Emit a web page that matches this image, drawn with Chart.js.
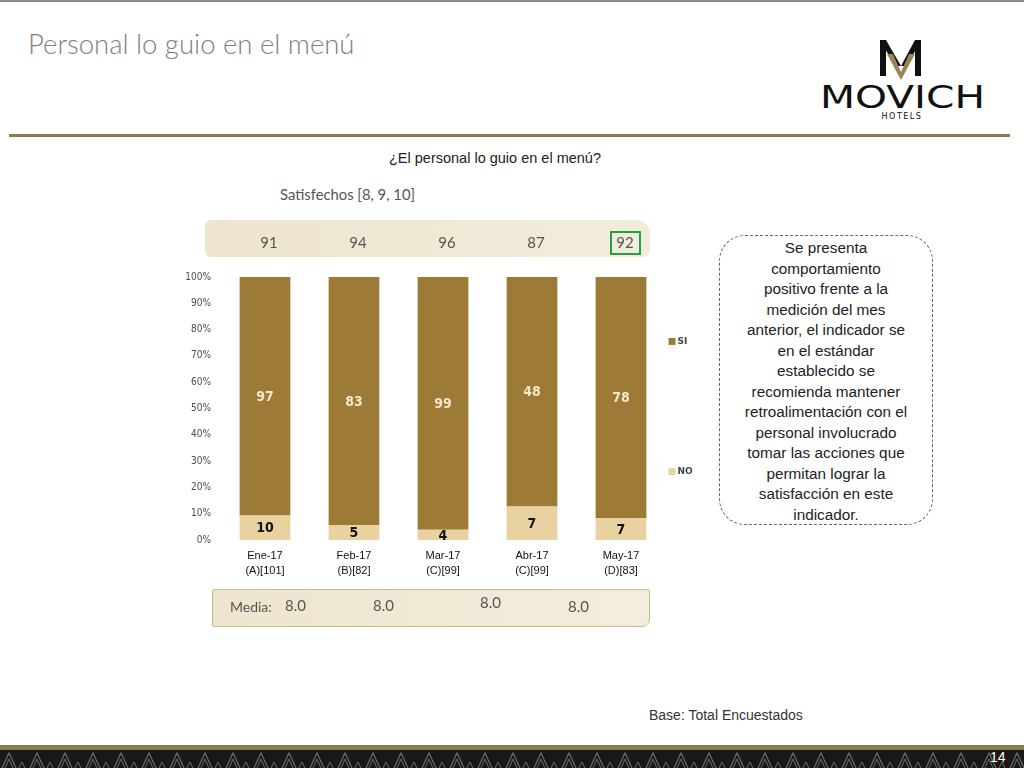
<!DOCTYPE html>
<html>
<head>
<meta charset="utf-8">
<script src="https://cdn.jsdelivr.net/npm/chart.js@4"></script>
<style>
  body { margin: 0; width: 1024px; height: 768px; position: relative; overflow: hidden; background: #fff; font-family: "Open Sans", sans-serif; }
  .abs { position: absolute; }
  #topRule { left: 0; top: 0; width: 1024px; height: 2px; background: #8a8a8a; }
  #title { left: 28px; top: 27px; font-family: Lato, "Open Sans", sans-serif; font-weight: 300; font-size: 27.5px; color: #7f7f7f; }
  #goldRule { left: 9px; top: 134px; width: 1001px; height: 3px; background: #8c7a50; }
  #question { left: 0; width: 990px; top: 150px; text-align: center; font-size: 14.5px; color: #222; font-family: "Liberation Sans", sans-serif; }
  #satLabel { left: 280px; top: 185px; font-family: Lato, sans-serif; font-size: 14.8px; color: #555; }
  #band { left: 205px; top: 220px; width: 445px; height: 37px; background: linear-gradient(90deg, #ede5cf, #f2ecdc); border-radius: 6px 14px 6px 6px; }
  #media { left: 212px; top: 589px; width: 436px; height: 36px; background: linear-gradient(90deg, #ede5cf, #f3eddd); border: 1px solid #c8b98e; border-radius: 2px 2px 8px 2px; font-family: Lato, sans-serif; color: #555; }
  #media span { position: absolute; font-size: 15px; }
  #note { left: 719px; top: 235px; width: 214px; height: 290px; border: 1px dashed #666; border-radius: 26px; text-align: center; font-family: "Liberation Sans", sans-serif; font-size: 15.3px; line-height: 20.5px; color: #222; padding-top: 2px; box-sizing: border-box; }
  #base { left: 649px; top: 707px; font-family: "Liberation Sans", sans-serif; font-size: 14px; color: #333; }
  #footGold { left: 0; top: 745px; width: 1024px; height: 5px; background: #8c7a50; }
  #pageNum { left: 990px; top: 749px; font-family: "Liberation Sans", sans-serif; font-size: 14px; color: #fff; }
  #chartBox { left: 175px; top: 215px; width: 525px; height: 375px; }
</style>
</head>
<body>
<div class="abs" id="topRule"></div>
<div class="abs" id="title">Personal lo guio en el menú</div>

<svg class="abs" style="left:815px;top:36px" width="175" height="90" viewBox="0 0 175 90">
  <polygon points="65,4 71,4 86,30 80,30" fill="#111"/>
  <polygon points="100,4 106,4 92,30 86,30" fill="#111"/>
  <polygon points="65,4 71,4 71,40 65,40" fill="#111"/>
  <polygon points="100,4 106,4 106,40 100,40" fill="#111"/>
  <polygon points="72,18 78,18 86,36 94,18 100,18 86,44" fill="#9a8455"/>
  <text x="5" y="72" textLength="165" lengthAdjust="spacingAndGlyphs" font-family="DejaVu Sans, sans-serif" font-size="32" fill="#111">MOVICH</text>
  <text x="87" y="83" text-anchor="middle" font-family="DejaVu Sans, sans-serif" font-size="8" letter-spacing="1.5" fill="#111">HOTELS</text>
</svg>

<div class="abs" id="goldRule"></div>
<div class="abs" id="question">¿El personal lo guio en el menú?</div>
<div class="abs" id="satLabel">Satisfechos [8, 9, 10]</div>
<div class="abs" id="band"></div>

<div class="abs" id="chartBox"><canvas id="chart" width="525" height="375"></canvas></div>

<div class="abs" id="media">
  <span style="left:17px;top:8px;font-size:14px">Media:</span>
  <span id="m0" style="left:72px;top:6px"></span>
  <span id="m1" style="left:160px;top:6px"></span>
  <span id="m2" style="left:267px;top:3px"></span>
  <span id="m3" style="left:355px;top:7px"></span>
</div>

<div class="abs" id="note">Se presenta<br>comportamiento<br>positivo frente a la<br>medición del mes<br>anterior, el indicador se<br>en el estándar<br>establecido se<br>recomienda mantener<br>retroalimentación con el<br>personal involucrado<br>tomar las acciones que<br>permitan lograr la<br>satisfacción en este<br>indicador.</div>

<div class="abs" id="base">Base: Total Encuestados</div>
<div class="abs" id="footGold"></div>
<svg class="abs" style="left:0;top:750px" width="1024" height="18">
  <defs>
    <pattern id="tri" width="28" height="18" patternUnits="userSpaceOnUse">
      <rect width="28" height="18" fill="#1a1816"/>
      <polyline points="2,18 9,3 16,18" fill="none" stroke="#6d6a66" stroke-width="1.2"/>
      <polyline points="5,18 9,9 13,18" fill="none" stroke="#6d6a66" stroke-width="1"/>
      <polyline points="19,18 22,12 25,18" fill="none" stroke="#6d6a66" stroke-width="1"/>
    </pattern>
  </defs>
  <rect width="1024" height="18" fill="url(#tri)"/>
</svg>
<div class="abs" id="pageNum">14</div>

<script>
// Chart data
const months = [['Ene-17', '(A)[101]'], ['Feb-17', '(B)[82]'], ['Mar-17', '(C)[99]'], ['Abr-17', '(C)[99]'], ['May-17', '(D)[83]']];
const siCounts = [97, 83, 99, 48, 78];
const noCounts = [10, 5, 4, 7, 7];
const satisfied = [91, 94, 96, 87, 92];
const highlightIndex = 4;
const mediaValues = ['8.0', '8.0', '8.0', '8.0'];

const siColor = '#9d7a36';
const noColor = '#e8d2a0';

// 100% stacked: convert counts to share of each month
const totals = siCounts.map((v, i) => v + noCounts[i]);
const siPct = siCounts.map((v, i) => v / totals[i] * 100);
const noPct = noCounts.map((v, i) => v / totals[i] * 100);

mediaValues.forEach((v, i) => document.getElementById('m' + i).textContent = v);

const segmentLabels = {
    id: 'segmentLabels',
    afterDatasetsDraw(chart) {
        const ctx = chart.ctx;
        ctx.save();
        ctx.textAlign = 'center';
        ctx.textBaseline = 'middle';
        ctx.font = 'bold 14px "DejaVu Sans Condensed", "DejaVu Sans", sans-serif';
        chart.data.datasets.forEach((ds, di) => {
            const meta = chart.getDatasetMeta(di);
            meta.data.forEach((bar, i) => {
                const p = bar.getCenterPoint();
                ctx.fillStyle = ds.label === 'SI' ? '#f3e7c9' : '#111';
                ctx.fillText(ds.counts[i], p.x, p.y + 1);
            });
        });
        ctx.restore();
    }
};

const topNumbers = {
    id: 'topNumbers',
    afterDraw(chart) {
        const ctx = chart.ctx;
        const xs = chart.scales.x;
        ctx.save();
        ctx.textAlign = 'center';
        ctx.textBaseline = 'middle';
        ctx.font = '15px Lato, sans-serif';
        ctx.fillStyle = '#555';
        satisfied.forEach((v, i) => {
            const x = xs.getPixelForValue(i) + 4;
            ctx.fillText(v, x, 28);
            if (i === highlightIndex) {
                ctx.strokeStyle = '#22a047';
                ctx.lineWidth = 2;
                ctx.strokeRect(x - 14, 17, 29, 22);
            }
        });
        ctx.restore();
    }
};

const sideLegend = {
    id: 'sideLegend',
    afterDraw(chart) {
        const ctx = chart.ctx;
        const ys = chart.scales.y;
        const x = chart.chartArea.right + 3;
        const items = [
            { label: 'SI', color: siColor, y: ys.getPixelForValue(75.5) },
            { label: 'NO', color: noColor, y: ys.getPixelForValue(26) }
        ];
        ctx.save();
        ctx.font = 'bold 9px "DejaVu Sans", sans-serif';
        ctx.textBaseline = 'middle';
        items.forEach(it => {
            ctx.fillStyle = it.color;
            ctx.fillRect(x, it.y - 3.5, 7, 7);
            ctx.fillStyle = '#444';
            ctx.fillText(it.label, x + 9, it.y);
        });
        ctx.restore();
    }
};

new Chart(document.getElementById('chart').getContext('2d'), {
    type: 'bar',
    data: {
        labels: months,
        datasets: [
            { label: 'NO', data: noPct, counts: noCounts, backgroundColor: noColor, borderWidth: 0, categoryPercentage: 1, barPercentage: 0.57 },
            { label: 'SI', data: siPct, counts: siCounts, backgroundColor: siColor, borderWidth: 0, categoryPercentage: 1, barPercentage: 0.57 }
        ]
    },
    options: {
        responsive: false,
        animation: false,
        layout: { padding: { top: 62, right: 34.5, left: 0, bottom: 0 } },
        plugins: {
            legend: { display: false },
            tooltip: { enabled: false }
        },
        scales: {
            x: {
                stacked: true,
                grid: { display: false, drawTicks: false },
                border: { display: false },
                ticks: {
                    color: '#111',
                    font: { family: '"Liberation Sans", sans-serif', size: 11, lineHeight: 1.35 },
                    padding: 9,
                    maxRotation: 0
                },
                afterFit(scale) { scale.height = 50; }
            },
            y: {
                stacked: true,
                min: 0,
                max: 100,
                grid: { display: false, drawTicks: false },
                border: { display: false },
                ticks: {
                    stepSize: 10,
                    color: '#4d4d4d',
                    padding: 9.5,
                    font: { family: '"DejaVu Sans Condensed", "DejaVu Sans", sans-serif', size: 10 },
                    callback: v => v + '%'
                },
                afterFit(scale) { scale.width = 45.5; }
            }
        }
    },
    plugins: [segmentLabels, topNumbers, sideLegend]
});
</script>
</body>
</html>
